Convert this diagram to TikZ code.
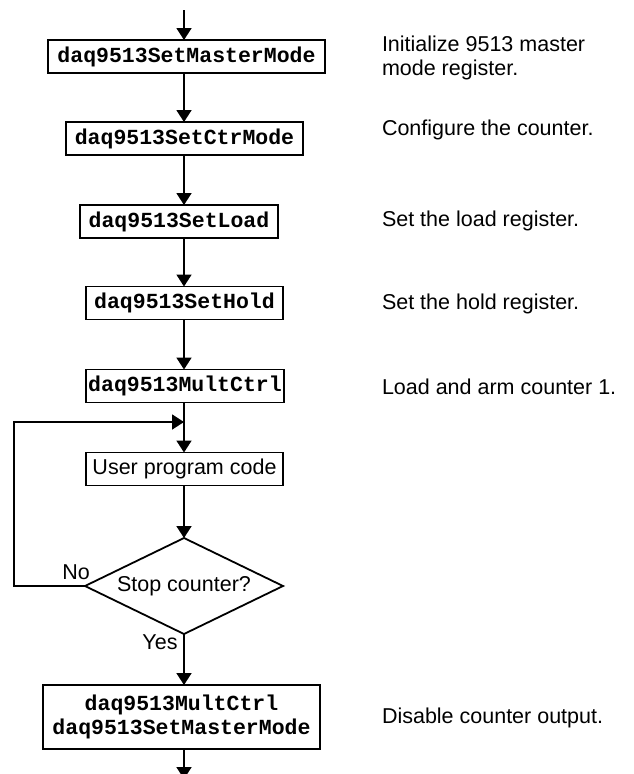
\documentclass[tikz,border=0pt]{standalone}
\usepackage{fontspec}
\setmainfont{Liberation Sans}
\setmonofont{Liberation Mono}
\usetikzlibrary{arrows.meta,shapes.geometric}
\begin{document}
\begin{tikzpicture}[x=1pt,y=-1pt,
  every node/.style={inner sep=0pt,outer sep=0pt},
  fbox/.style={draw,line width=1.8pt,minimum height=33pt,
    font=\fontsize{21.5}{24}\selectfont\ttfamily\bfseries,align=center},
  sbox/.style={draw,line width=1.8pt,minimum height=33pt,
    font=\fontsize{21.5}{24}\selectfont},
  note/.style={font=\fontsize{21.5}{23.3}\selectfont,align=left},
  lbl/.style={font=\fontsize{21.5}{24}\selectfont},
  arr/.style={line width=1.8pt,-{Triangle[length=12pt,width=15pt]}},
  ln/.style={line width=1.8pt}]
\useasboundingbox (0,0) rectangle (634,774);
\coordinate (ax) at (184,0);
\coordinate (top) at (184,10);
\coordinate (bot) at (184,779);
\node[fbox,minimum width=277pt] (b1) at (186.5,56.5) {daq9513SetMasterMode};
\node[fbox,minimum width=237pt] (b2) at (184.5,138.5) {daq9513SetCtrMode};
\node[fbox,minimum width=198pt] (b3) at (179,221.5) {daq9513SetLoad};
\node[fbox,minimum width=197pt] (b4) at (184.5,303) {daq9513SetHold};
\node[fbox,minimum width=198pt] (b5) at (185,386) {daq9513MultCtrl};
\node[sbox,minimum width=197pt] (u) at (184.5,469) {User program code};
\node[draw,line width=1.8pt,shape=diamond,aspect=2.06,minimum width=198pt,minimum height=96pt,
  font=\fontsize{21.5}{24}\selectfont] (d) at (184,586) {Stop counter?};
\node[fbox,minimum width=277pt,minimum height=64pt] (b6) at (181.5,717) {daq9513MultCtrl\\daq9513SetMasterMode};
\coordinate (lc) at (14,422);
\coordinate (jn) at (184,422);
% connectors
\draw[arr] (top) -- (b1.north -| ax);
\draw[arr] (b1.south -| ax) -- (b2.north -| ax);
\draw[arr] (b2.south -| ax) -- (b3.north -| ax);
\draw[arr] (b3.south -| ax) -- (b4.north -| ax);
\draw[arr] (b4.south -| ax) -- (b5.north -| ax);
\draw[arr] (b5.south -| ax) -- (u.north -| ax);
\draw[arr] (u.south -| ax) -- (d.north);
\draw[arr] (d.south) -- (b6.north -| ax);
\draw[arr] (b6.south -| ax) -- (bot);
\draw[arr] (d.west) -- (d.west -| lc) -- (lc) -- (jn);
% labels
\node[lbl] (no) at (76,572) {No};
\node[lbl] (yes) at (160,642) {Yes};
% notes
\node[note,anchor=west] (n1) at (382,58) {Initialize 9513 master\\mode register.};
\node[note,anchor=base west] (n2) at (382,135) {Configure the counter.};
\node[note,anchor=base west] (n3) at (382,226.7) {Set the load register.};
\node[note,anchor=base west] (n4) at (382,309) {Set the hold register.};
\node[note,anchor=base west] (n5) at (382,394) {Load and arm counter 1.};
\node[note,anchor=base west] (n6) at (382,723) {Disable counter output.};
\end{tikzpicture}
\end{document}
